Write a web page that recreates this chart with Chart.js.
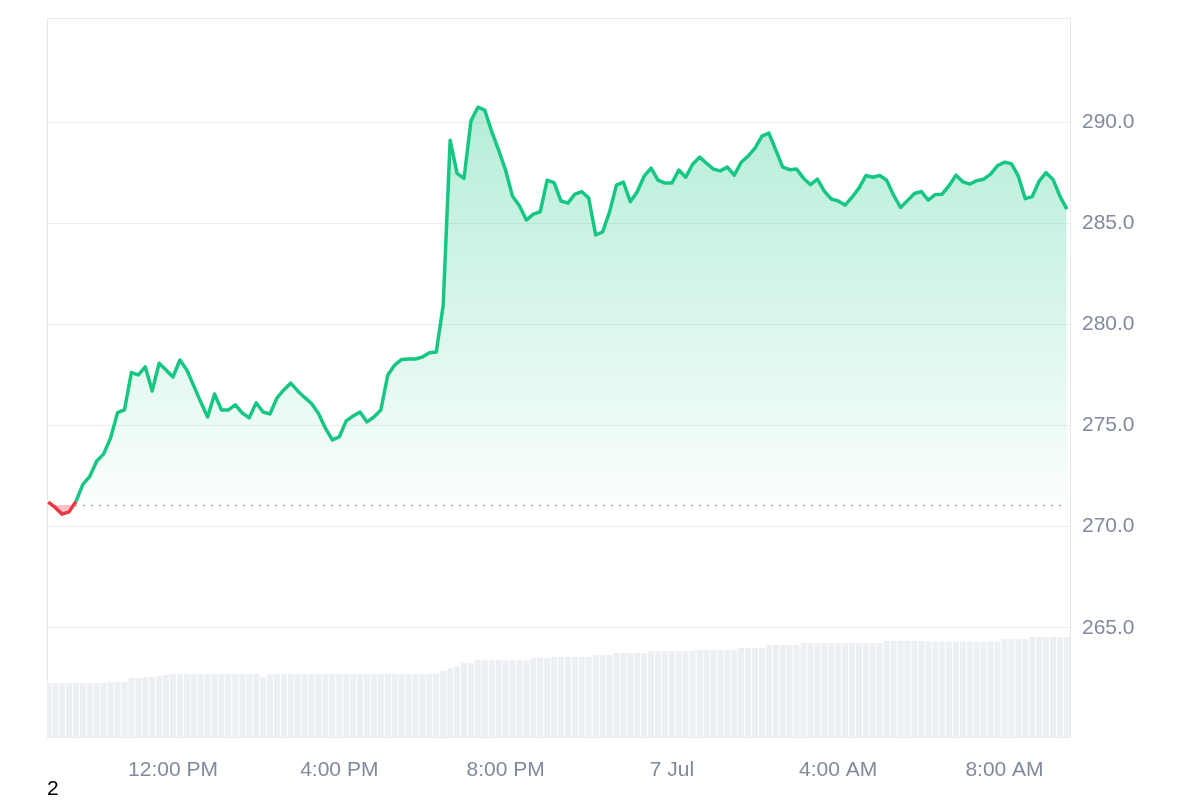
<!DOCTYPE html>
<html>
<head>
<meta charset="utf-8">
<title>Price chart</title>
<script src="https://cdn.jsdelivr.net/npm/chart.js@4.4.1/dist/chart.umd.min.js"></script>
<style>
  body { margin: 0; background: #fff; }
  #wrap { position: relative; width: 1200px; height: 800px; }
  #page { position: absolute; left: 47px; top: 776px; font: 21px "Liberation Sans", Arial, sans-serif; color: #000; }
</style>
</head>
<body>
<div id="wrap">
  <canvas id="priceChart"></canvas>
  <div id="page">2</div>
</div>
<script>
// price chart, 6 Jul 09:00 -> 7 Jul 09:30, 10 min steps

const startHour = 9;
const stepHour = 1 / 6;
const baselinePrice = 271.07;

const tickHours = [12, 16, 20, 24, 28, 32];
const tickLabels = ["12:00 PM", "4:00 PM", "8:00 PM", "7 Jul", "4:00 AM", "8:00 AM"];
const priceTicks = [265, 270, 275, 280, 285, 290];

const prices = [
  271.21, 270.95, 270.62, 270.73, 271.25, 272.09, 272.49, 273.25, 273.60, 274.39,
  275.64, 275.77, 277.62, 277.50, 277.90, 276.71, 278.08, 277.75, 277.40, 278.24,
  277.75, 276.96, 276.17, 275.42, 276.56, 275.77, 275.77, 276.02, 275.62, 275.38,
  276.12, 275.67, 275.57, 276.36, 276.76, 277.10, 276.71, 276.39, 276.09, 275.60,
  274.87, 274.29, 274.44, 275.23, 275.47, 275.67, 275.18, 275.42, 275.77, 277.50,
  277.99, 278.27, 278.29, 278.29, 278.39, 278.60, 278.64, 280.96, 289.11, 287.47,
  287.22, 290.05, 290.74, 290.59, 289.53, 288.62, 287.63, 286.34, 285.87, 285.16,
  285.45, 285.57, 287.13, 287.01, 286.10, 286.00, 286.44, 286.56, 286.25, 284.42,
  284.57, 285.55, 286.89, 287.04, 286.07, 286.56, 287.33, 287.73, 287.13, 286.99,
  286.99, 287.63, 287.28, 287.92, 288.27, 287.97, 287.68, 287.59, 287.78, 287.38,
  288.02, 288.32, 288.72, 289.31, 289.46, 288.62, 287.78, 287.65, 287.68, 287.23,
  286.91, 287.18, 286.59, 286.20, 286.10, 285.90, 286.29, 286.74, 287.36, 287.28,
  287.36, 287.13, 286.39, 285.78, 286.12, 286.47, 286.57, 286.15, 286.42, 286.44,
  286.86, 287.38, 287.05, 286.94, 287.11, 287.18, 287.43, 287.85, 288.02, 287.95,
  287.33, 286.22, 286.32, 287.08, 287.50, 287.17, 286.34, 285.70
];

// volume, millions
const volumes = [
  39.1, 39.1, 39.1, 39.1, 39.1, 39.1, 39.1, 39.1, 39.1, 39.8,
  39.8, 39.8, 42.7, 42.7, 43.4, 43.4, 44.2, 44.9, 45.6, 45.6,
  45.6, 45.6, 45.6, 45.6, 45.6, 45.6, 45.6, 45.6, 45.6, 45.6,
  45.6, 43.4, 45.6, 45.6, 45.6, 45.6, 45.6, 45.6, 45.6, 45.6,
  45.6, 45.6, 45.6, 45.6, 45.6, 45.6, 45.6, 45.6, 45.6, 45.6,
  45.6, 45.6, 45.6, 45.6, 45.6, 45.6, 45.6, 47.7, 49.9, 51.0,
  53.5, 53.5, 55.7, 55.7, 55.7, 55.7, 55.7, 55.7, 55.7, 55.7,
  57.1, 57.1, 57.1, 57.9, 57.9, 57.9, 57.9, 57.9, 57.9, 59.3,
  59.3, 59.3, 60.7, 60.7, 60.7, 60.7, 60.7, 62.2, 62.2, 62.2,
  62.2, 62.2, 62.2, 62.2, 62.9, 62.9, 62.9, 62.9, 62.9, 62.9,
  64.4, 64.4, 64.4, 64.4, 66.5, 66.5, 66.5, 66.5, 66.5, 68.0,
  68.0, 68.0, 68.0, 68.0, 68.0, 68.0, 68.0, 68.0, 68.0, 68.0,
  68.0, 69.4, 69.4, 69.4, 69.4, 69.4, 69.4, 68.9, 68.9, 68.9,
  68.9, 68.9, 68.9, 68.9, 68.9, 68.9, 68.9, 68.9, 70.9, 70.9,
  70.9, 70.9, 72.3, 72.3, 72.3, 72.3, 72.3, 72.3
];

const hours = prices.map((_, i) => startHour + i * stepHour);

const GREEN = "#16c784";
const RED = "#ea3943";
const LABEL = "#808a9d";

Chart.defaults.font.family = '"Liberation Sans", Arial, sans-serif';

function greenFill(c) {
  const chart = c.chart;
  const y = chart.scales && chart.scales.y;
  if (!chart.chartArea || !y) return "rgba(22,199,132,0.15)";
  const g = chart.ctx.createLinearGradient(0, y.getPixelForValue(291), 0, y.getPixelForValue(baselinePrice));
  g.addColorStop(0, "rgba(22,199,132,0.32)");
  g.addColorStop(1, "rgba(22,199,132,0.02)");
  return g;
}

// frame round the plot + dotted line at the opening price
const framePlugin = {
  id: "frame",
  beforeDatasetsDraw(chart) {
    const { ctx, chartArea: a } = chart;
    ctx.save();
    ctx.strokeStyle = "#e6e8eb";
    ctx.lineWidth = 1;
    ctx.strokeRect(a.left + 0.5, a.top + 0.5, a.right - a.left - 1, a.bottom - a.top);
    ctx.restore();
  },
  afterDatasetsDraw(chart) {
    const { ctx, chartArea: a } = chart;
    const yb = Math.round(chart.scales.y.getPixelForValue(baselinePrice)) + 0.5;
    ctx.save();
    ctx.strokeStyle = "#9ca1a9";
    ctx.lineWidth = 1.5;
    ctx.setLineDash([2, 6]);
    ctx.beginPath();
    ctx.moveTo(a.left + 28, yb);
    ctx.lineTo(a.right - 4, yb);
    ctx.stroke();
    ctx.restore();
  },
};

new Chart(document.getElementById("priceChart"), {
  type: "line",
  data: {
    datasets: [
      {
        type: "line",
        data: hours.map((h, i) => ({ x: h, y: prices[i] })),
        yAxisID: "y",
        borderColor: GREEN,
        borderWidth: 3.5,
        borderJoinStyle: "round",
        pointRadius: 0,
        tension: 0,
        order: 1,
        segment: {
          borderColor: (c) =>
            c.p0.parsed.y < baselinePrice || c.p1.parsed.y < baselinePrice ? RED : GREEN,
        },
        backgroundColor: greenFill,
        fill: { target: { value: baselinePrice }, below: "rgba(234,57,67,0.3)" },
      },
      {
        type: "bar",
        data: hours.map((h, i) => ({ x: h, y: volumes[i] })),
        yAxisID: "yv",
        backgroundColor: "#eceff3",
        barPercentage: 1,
        categoryPercentage: 0.85,
        order: 2,
      },
    ],
  },
  options: {
    responsive: true,
    maintainAspectRatio: false,
    animation: false,
    layout: { padding: { left: 47, top: 18, right: 0, bottom: 0 } },
    plugins: { legend: { display: false }, tooltip: { enabled: false } },
    scales: {
      x: {
        type: "linear",
        min: 8.97,
        max: 33.6,
        offset: false,
        grid: { display: false },
        border: { display: false },
        afterBuildTicks: (s) => {
          s.ticks = tickHours.map((v) => ({ value: v }));
        },
        afterFit: (s) => {
          s.height = 63;
          s.paddingLeft = 0;
          s.paddingRight = 0;
        },
        ticks: {
          callback: (v, i) => tickLabels[i],
          color: LABEL,
          font: { size: 21 },
          padding: 13,
          maxRotation: 0,
          autoSkip: false,
        },
      },
      y: {
        position: "right",
        min: 259.6,
        max: 295.15,
        grid: { color: "#ececec", drawTicks: false },
        border: { display: false },
        afterBuildTicks: (s) => {
          s.ticks = priceTicks.map((v) => ({ value: v }));
        },
        afterFit: (s) => {
          s.width = 129;
          s.paddingTop = 0;
          s.paddingBottom = 0;
        },
        ticks: {
          callback: (v) => Number(v).toFixed(1),
          color: LABEL,
          font: { size: 21 },
          padding: 11,
        },
      },
      yv: { display: false, min: 0, max: 520 },
    },
  },
  plugins: [framePlugin],
});
</script>
</body>
</html>
